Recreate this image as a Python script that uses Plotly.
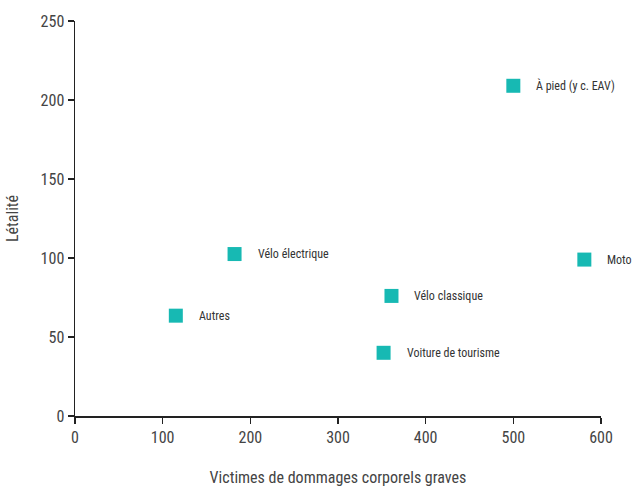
import plotly.graph_objects as go

categories = ["À pied (y c. EAV)", "Moto", "Vélo électrique", "Vélo classique", "Autres", "Voiture de tourisme"]
victimes = [500, 581, 182, 361, 115, 352]
letalite = [209, 99, 102.5, 76, 63.5, 40]

x_ticks = [0, 100, 200, 300, 400, 500, 600]
y_ticks = [0, 50, 100, 150, 200, 250]

FONT = "Liberation Sans Narrow, Roboto Condensed, DejaVu Sans Condensed, Roboto, sans-serif"
teal = "#17b9b3"

fig = go.Figure()
fig.add_trace(go.Scatter(
    x=victimes, y=letalite, mode="markers",
    marker=dict(symbol="square", size=14, color=teal, line=dict(width=0)),
    hoverinfo="skip", showlegend=False, cliponaxis=False,
))
for c, xv, yv in zip(categories, victimes, letalite):
    fig.add_annotation(x=xv, y=yv, text=c, showarrow=False, xanchor="left",
                       yanchor="middle", xshift=21,
                       font=dict(family=FONT, size=12, color="#333333"))

axis_common = dict(showgrid=False, zeroline=False, showline=True, linecolor="#222222",
                   linewidth=1.5, ticks="outside", ticklen=6, tickwidth=1.5, tickcolor="#222222",
                   automargin=False,
                   tickfont=dict(family=FONT, size=16, color="#444444"))
fig.update_xaxes(range=[0, 600], tickvals=x_ticks,
                 title=dict(text="Victimes de dommages corporels graves",
                            font=dict(family=FONT, size=16, color="#444444"), standoff=26),
                 **axis_common)
fig.update_yaxes(range=[0, 250], tickvals=y_ticks,
                 title=dict(text="Létalité", font=dict(family=FONT, size=16, color="#444444"), standoff=18),
                 **axis_common)
fig.update_layout(width=633, height=488, margin=dict(l=75, r=32, t=21, b=72),
                  plot_bgcolor="white", paper_bgcolor="white",
                  font=dict(family=FONT))
fig.write_html("out.html",
               config={"displayModeBar": False, "staticPlot": True},
               post_script="document.body.style.margin='0px';document.body.style.overflow='hidden';")
